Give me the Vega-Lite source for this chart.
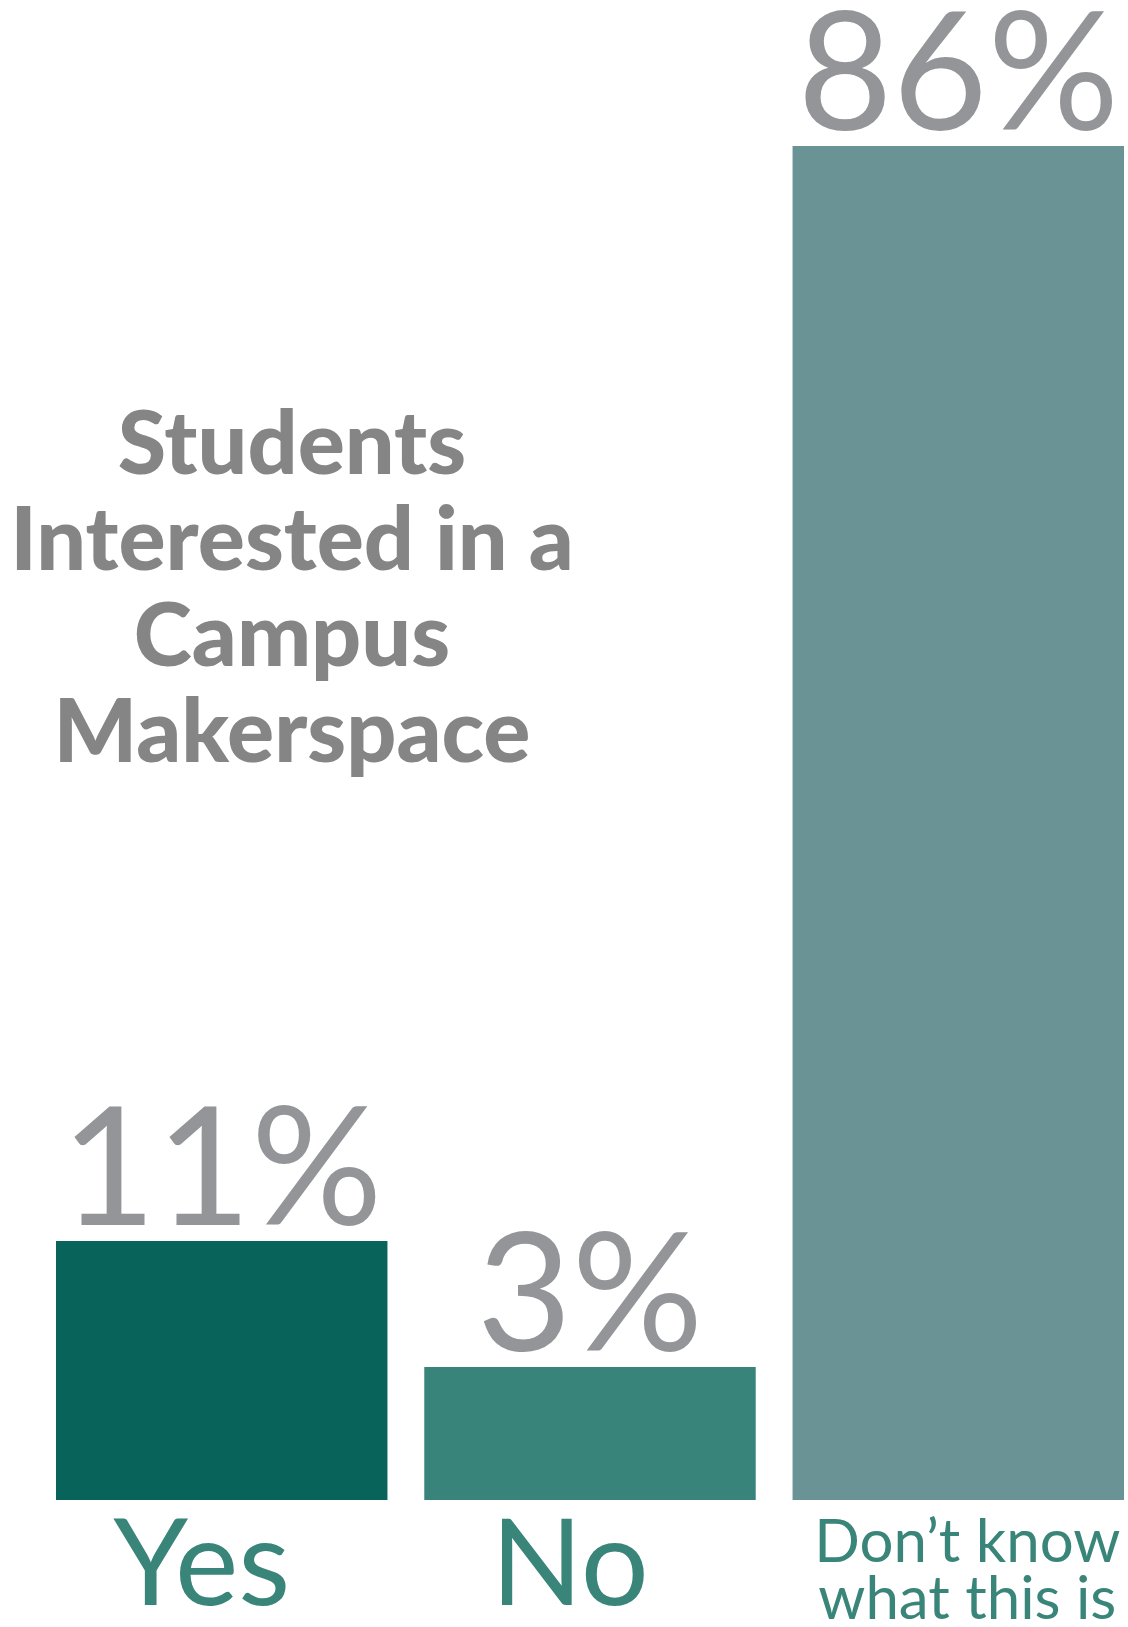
{
  "$schema": "https://vega.github.io/schema/vega-lite/v6.json",
  "width": 1068,
  "height": 1500,
  "autosize": {"type": "none"},
  "padding": {"left": 56, "top": 0, "right": 4, "bottom": 127},
  "background": "white",
  "config": {"view": {"stroke": null}, "font": "Lato"},
  "title": {
    "text": ["Students", "Interested in a", "Campus", "Makerspace"],
    "orient": "top",
    "anchor": "start",
    "frame": "group",
    "align": "center",
    "baseline": "alphabetic",
    "offset": 0,
    "dx": 236,
    "dy": 851,
    "font": "Lato",
    "fontSize": 88,
    "fontWeight": 900,
    "lineHeight": 96,
    "color": "#858585"
  },
  "data": {
    "values": [
      {"category": "Yes", "pct": 11, "pct_label": "11%", "label": ["Yes"]},
      {"category": "No", "pct": 3, "pct_label": "3%", "label": ["No"]},
      {"category": "Don’t know what this is", "pct": 86, "pct_label": "86%", "label": ["Don’t know", "what this is"]}
    ]
  },
  "encoding": {
    "x": {
      "field": "category",
      "type": "nominal",
      "sort": null,
      "axis": null,
      "scale": {"paddingInner": 0.1, "paddingOuter": 0}
    }
  },
  "layer": [
    {
      "mark": {"type": "bar"},
      "encoding": {
        "y": {
          "field": "pct",
          "type": "quantitative",
          "axis": null,
          "scale": {"domain": [0, 3, 11, 86], "range": [1500, 1367, 1241, 146], "nice": false, "zero": false}
        },
        "color": {
          "field": "category",
          "type": "nominal",
          "legend": null,
          "sort": null,
          "scale": {
            "domain": ["Yes", "No", "Don’t know what this is"],
            "range": ["#08645a", "#39847a", "#6a9396"]
          }
        }
      }
    },
    {
      "mark": {"type": "text", "baseline": "alphabetic", "dy": -16, "fontSize": 164, "color": "#939598", "font": "Lato"},
      "encoding": {
        "y": {"field": "pct", "type": "quantitative"},
        "text": {"field": "pct_label", "type": "nominal"}
      }
    },
    {
      "transform": [{"filter": {"field": "category", "oneOf": ["Yes", "No"]}}],
      "mark": {"type": "text", "baseline": "alphabetic", "dy": 105, "dx": -20, "fontSize": 120, "color": "#3a8579", "font": "Lato"},
      "encoding": {
        "y": {"datum": 0, "type": "quantitative"},
        "text": {"field": "label", "type": "nominal"}
      }
    },
    {
      "transform": [{"filter": {"field": "category", "oneOf": ["Don’t know what this is"]}}],
      "mark": {"type": "text", "baseline": "alphabetic", "dy": 62, "dx": 9, "fontSize": 60, "lineHeight": 57, "color": "#3a8579", "font": "Lato"},
      "encoding": {
        "y": {"datum": 0, "type": "quantitative"},
        "text": {"field": "label", "type": "nominal"}
      }
    }
  ]
}
